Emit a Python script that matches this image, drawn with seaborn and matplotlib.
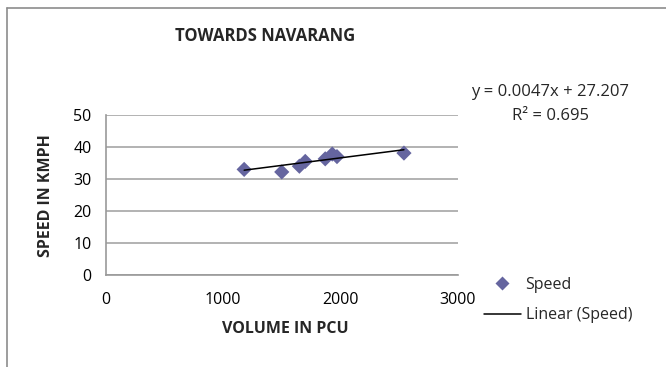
import matplotlib
matplotlib.use("Agg")
import matplotlib.pyplot as plt
from matplotlib.lines import Line2D
import numpy as np
import pandas as pd
import seaborn as sns

# Observed traffic: volume (PCU) vs. spot speed (km/h)
volume_pcu = [1180, 1500, 1650, 1700, 1870, 1930, 1970, 2540]
speed_kmph = [33.0, 32.2, 34.0, 35.5, 36.3, 37.8, 37.0, 38.1]

# Linear trend as reported on the chart
trend_slope = 0.0047
trend_intercept = 27.207
trend_r2 = 0.695

title_text = "TOWARDS NAVARANG"
x_label = "VOLUME IN PCU"
y_label = "SPEED IN KMPH"
x_ticks = [0, 1000, 2000, 3000]
y_ticks = [0, 10, 20, 30, 40, 50]

sns.set_theme(style="white")
plt.rcParams["font.family"] = ["Open Sans", "DejaVu Sans"]

W, H = 666, 367
fig = plt.figure(figsize=(W / 100, H / 100), dpi=100)
ax = fig.add_axes([105.5 / W, 1 - 275 / H, (458 - 105.5) / W, (275 - 115) / H])

df = pd.DataFrame({"volume": volume_pcu, "speed": speed_kmph})
marker_color = "#65659F"
sns.scatterplot(data=df, x="volume", y="speed", marker="D", s=60,
                color=marker_color, edgecolor="none", ax=ax, zorder=3)

fit_x = np.array([min(volume_pcu), max(volume_pcu)])
fit_y = trend_slope * fit_x + trend_intercept
sns.lineplot(x=fit_x, y=fit_y, color="black", linewidth=1.1, ax=ax, zorder=4)

ax.set_xlim(0, 3000)
ax.set_ylim(0, 50)
ax.set_xticks(x_ticks)
ax.set_yticks(y_ticks)
ax.tick_params(axis="both", labelsize=11.5, colors="#999999", labelcolor="black",
               length=5, width=1.2, direction="out")
ax.tick_params(axis="x", pad=7)
ax.tick_params(axis="y", pad=5)
ax.yaxis.grid(True, color="#A6A6A6", linewidth=1.2)
ax.xaxis.grid(False)
ax.set_axisbelow(True)
for side in ("top", "right"):
    ax.spines[side].set_visible(False)
for side in ("left", "bottom"):
    ax.spines[side].set_color("#999999")
    ax.spines[side].set_linewidth(1.2)
ax.set_xlabel("")
ax.set_ylabel("")

# Titles and axis labels
fig.text(265 / W, 1 - 36 / H, title_text, ha="center", va="center",
         fontsize=12, fontweight="bold")
fig.text(285 / W, 1 - 329 / H, x_label, ha="center", va="center",
         fontsize=11.5, fontweight="bold")
fig.text(46 / W, 1 - 196 / H, y_label, ha="center", va="center",
         fontsize=11.5, fontweight="bold", rotation=90)

# Trendline equation
fig.text(550 / W, 1 - 92 / H, f"y = {trend_slope}x + {trend_intercept}",
         ha="center", va="center", fontsize=12)
fig.text(551 / W, 1 - 116 / H, f"R² = {trend_r2}",
         ha="center", va="center", fontsize=12)

# Legend
handles = [
    Line2D([], [], marker="D", linestyle="none", markersize=7,
           markerfacecolor=marker_color, markeredgecolor="none"),
    Line2D([], [], color="black", linewidth=1.1),
]
fig.legend(handles, ["Speed", "Linear (Speed)"], loc="upper left",
           bbox_to_anchor=(484 / W, 1 - 277 / H), frameon=False, fontsize=11.5,
           handlelength=2.3, handletextpad=0.3, labelspacing=0.9, borderpad=0,
           borderaxespad=0)

# Outer chart frame
frame_kw = dict(color="#8C8C8C", linewidth=1.2, transform=fig.transFigure)
fig.add_artist(Line2D([7 / W, 7 / W], [0, 1 - 8 / H], **frame_kw))
fig.add_artist(Line2D([7 / W, 1], [1 - 8 / H, 1 - 8 / H], **frame_kw))

fig.savefig("out.png", dpi=100, facecolor="white")
